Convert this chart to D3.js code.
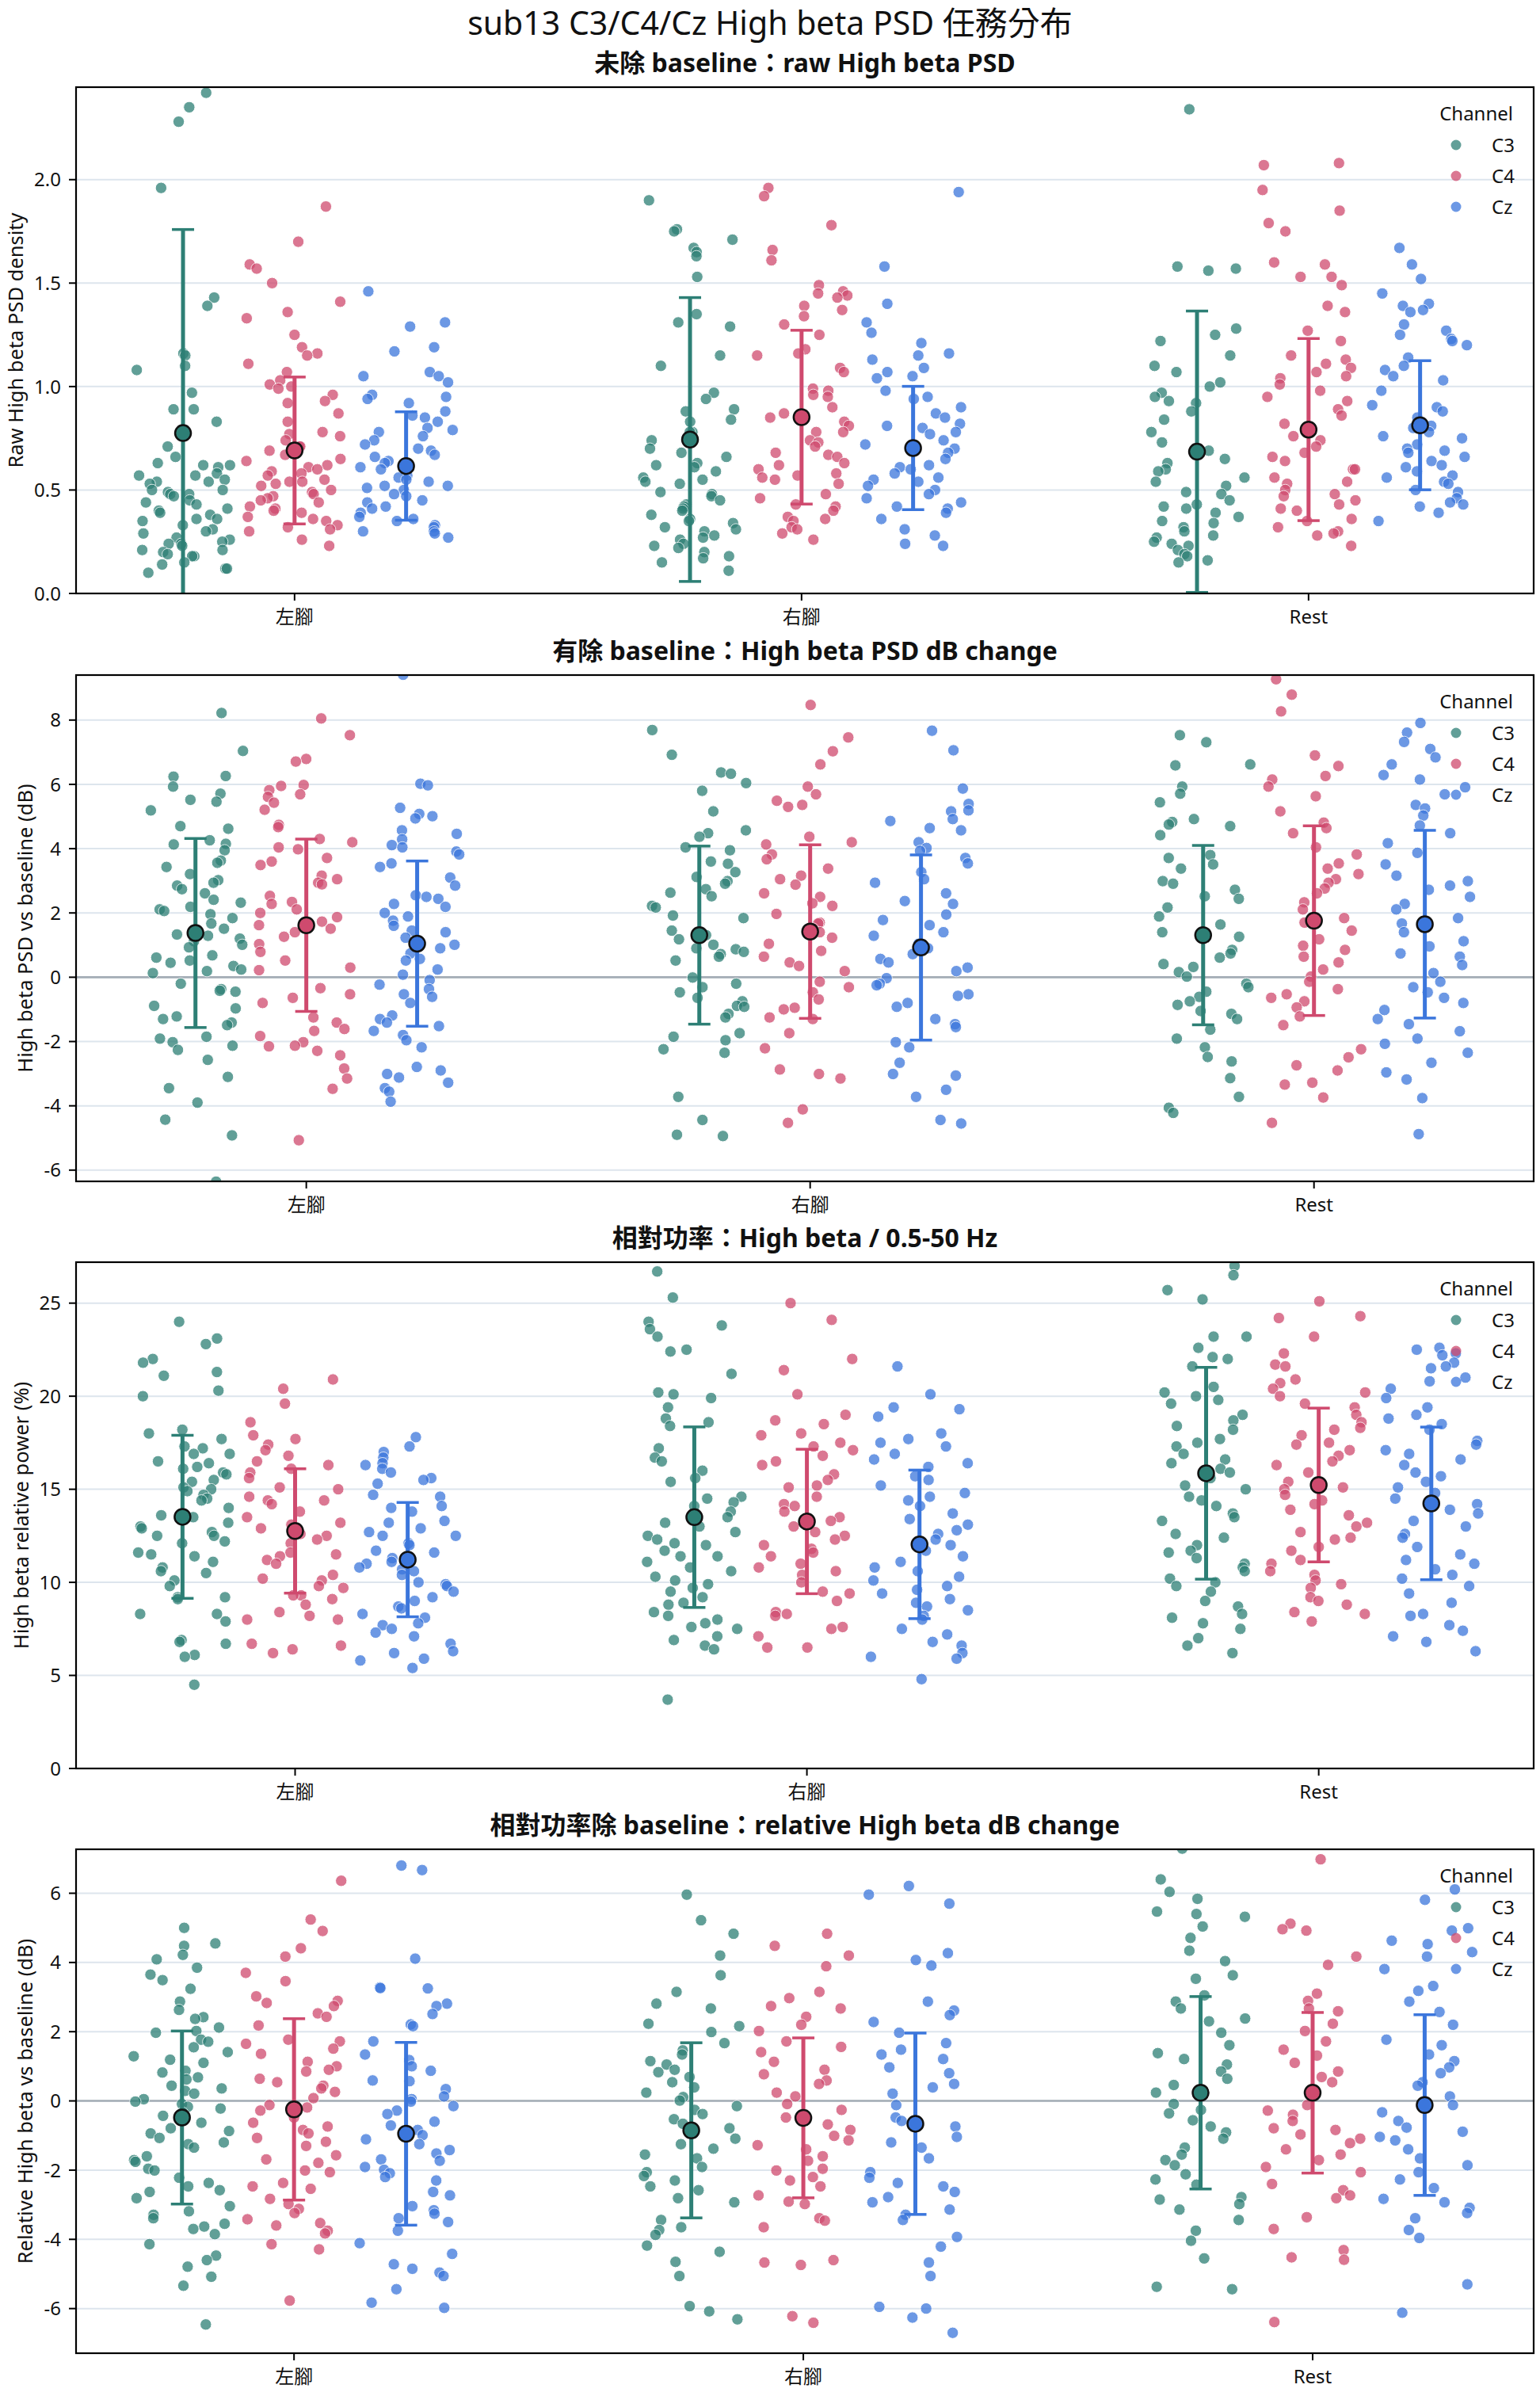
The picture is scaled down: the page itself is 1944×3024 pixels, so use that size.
<!DOCTYPE html>
<html>
<head>
<meta charset="utf-8">
<title>sub13 C3/C4/Cz High beta PSD</title>
<script src="https://d3js.org/d3.v7.min.js"></script>
<style>
  body { margin: 0; background: #fff; }
  text { font-family: "Noto Sans", "Noto Sans CJK TC", sans-serif; fill: #111; }
</style>
</head>
<body>
<div id="chart"></div>
<script>
// ---- data ----
const categories = ["左腳", "右腳", "Rest"];
const channels = ["C3", "C4", "Cz"];
const channelColors = ["#2d7f75", "#cf4a6e", "#3b76dc"];

// panel 1: raw High beta PSD, one list per category
const raw_C3 = [
  [2.42,2.35,2.28,1.96,1.43,1.39,1.16,1.15,1.10,1.08,0.97,0.89,0.89,0.83,0.71,0.66,0.63,0.62,0.62,0.61,0.58,0.57,0.57,0.55,0.54,0.54,0.53,0.50,0.50,0.49,0.48,0.48,0.47,0.45,0.44,0.43,0.41,0.40,0.39,0.38,0.36,0.36,0.35,0.33,0.31,0.30,0.29,0.27,0.26,0.25,0.24,0.24,0.23,0.21,0.21,0.20,0.19,0.18,0.18,0.15,0.14,0.12,0.12,0.10],
  [1.90,1.76,1.75,1.71,1.67,1.65,1.63,1.53,1.35,1.31,1.29,1.15,1.10,0.97,0.94,0.89,0.88,0.84,0.83,0.78,0.78,0.74,0.70,0.68,0.66,0.63,0.62,0.61,0.59,0.56,0.55,0.54,0.53,0.49,0.48,0.47,0.45,0.43,0.42,0.41,0.40,0.38,0.36,0.35,0.34,0.32,0.31,0.30,0.28,0.27,0.26,0.24,0.23,0.22,0.20,0.18,0.17,0.15,0.11],
  [2.34,1.58,1.57,1.56,1.28,1.25,1.22,1.15,1.10,1.07,1.02,1.00,0.97,0.95,0.93,0.92,0.88,0.84,0.78,0.73,0.69,0.65,0.63,0.60,0.59,0.56,0.54,0.52,0.49,0.48,0.45,0.43,0.42,0.41,0.39,0.37,0.35,0.34,0.32,0.30,0.28,0.27,0.25,0.24,0.23,0.21,0.19,0.18,0.16,0.15]
];
const raw_C4 = [
  [1.87,1.70,1.59,1.57,1.50,1.41,1.36,1.33,1.25,1.19,1.16,1.15,1.11,1.07,1.03,1.01,1.00,0.99,0.96,0.93,0.92,0.87,0.83,0.78,0.77,0.76,0.74,0.71,0.71,0.69,0.67,0.65,0.64,0.62,0.61,0.60,0.59,0.58,0.57,0.55,0.54,0.54,0.53,0.52,0.50,0.49,0.48,0.47,0.46,0.45,0.44,0.42,0.41,0.40,0.39,0.37,0.36,0.35,0.33,0.32,0.31,0.30,0.26,0.23],
  [1.96,1.92,1.78,1.66,1.61,1.49,1.46,1.45,1.44,1.43,1.39,1.37,1.34,1.30,1.25,1.18,1.16,1.15,1.09,1.07,0.99,0.98,0.96,0.95,0.90,0.87,0.85,0.83,0.81,0.78,0.78,0.74,0.73,0.71,0.68,0.67,0.66,0.63,0.62,0.60,0.58,0.57,0.56,0.55,0.53,0.48,0.46,0.43,0.42,0.40,0.37,0.36,0.35,0.32,0.31,0.29,0.26],
  [2.08,2.07,1.95,1.85,1.79,1.75,1.60,1.59,1.53,1.53,1.49,1.39,1.36,1.27,1.22,1.15,1.13,1.11,1.09,1.07,1.05,1.04,1.01,0.98,0.95,0.93,0.89,0.86,0.82,0.76,0.74,0.71,0.68,0.66,0.64,0.60,0.60,0.56,0.54,0.53,0.50,0.48,0.47,0.45,0.43,0.41,0.40,0.36,0.35,0.32,0.30,0.29,0.28,0.23]
];
const raw_Cz = [
  [1.46,1.31,1.29,1.19,1.17,1.07,1.05,1.05,1.02,0.96,0.95,0.94,0.92,0.88,0.86,0.85,0.83,0.80,0.79,0.78,0.76,0.74,0.72,0.70,0.69,0.67,0.66,0.64,0.63,0.61,0.60,0.57,0.56,0.55,0.54,0.52,0.52,0.51,0.50,0.48,0.47,0.45,0.44,0.42,0.41,0.39,0.37,0.36,0.35,0.33,0.32,0.30,0.30,0.29,0.27],
  [1.94,1.58,1.40,1.31,1.26,1.21,1.16,1.15,1.13,1.09,1.07,1.05,1.04,0.98,0.95,0.94,0.90,0.87,0.85,0.82,0.81,0.80,0.78,0.77,0.74,0.72,0.70,0.68,0.65,0.62,0.61,0.60,0.58,0.56,0.55,0.54,0.52,0.50,0.48,0.46,0.44,0.42,0.41,0.39,0.36,0.31,0.28,0.24,0.23],
  [1.67,1.59,1.52,1.45,1.40,1.39,1.37,1.36,1.30,1.27,1.25,1.23,1.22,1.20,1.14,1.10,1.08,1.05,1.03,0.98,0.91,0.90,0.88,0.85,0.81,0.80,0.78,0.76,0.75,0.72,0.70,0.69,0.68,0.66,0.64,0.62,0.61,0.59,0.57,0.56,0.54,0.53,0.50,0.49,0.46,0.44,0.43,0.42,0.39,0.35]
];
// mean and SD per channel (rows) and category (columns)
const raw_mean = [[0.775,0.744,0.685],[0.691,0.852,0.792],[0.616,0.703,0.813]];
const raw_sd = [[0.984,0.686,0.680],[0.355,0.420,0.440],[0.262,0.298,0.312]];

// panel 2: PSD dB change vs baseline
const db_C3 = [
  [8.22,7.04,6.26,6.24,5.93,5.71,5.52,5.46,5.19,4.70,4.62,4.26,4.15,4.13,3.95,3.63,3.56,3.43,3.21,3.02,2.94,2.85,2.74,2.61,2.41,2.32,2.19,2.11,2.06,1.96,1.84,1.67,1.51,1.33,1.29,1.20,1.12,1.01,0.93,0.68,0.61,0.52,0.45,0.35,0.24,0.19,0.13,-0.20,-0.37,-0.42,-0.45,-0.89,-0.97,-1.22,-1.30,-1.41,-1.49,-1.85,-1.91,-2.02,-2.13,-2.26,-2.57,-3.10,-3.45,-3.90,-4.43,-4.92,-6.36],
  [7.69,6.92,6.37,6.33,6.04,5.80,5.16,4.57,4.48,4.37,4.04,3.95,3.60,3.53,3.27,3.12,2.99,2.91,2.74,2.63,2.52,2.22,2.17,1.92,1.84,1.45,1.31,1.18,1.01,0.90,0.87,0.79,0.72,0.64,0.52,-0.01,-0.20,-0.31,-0.47,-0.64,-0.75,-0.89,-0.92,-1.14,-1.25,-1.74,-1.85,-1.96,-2.24,-2.35,-3.72,-4.44,-4.90,-4.94],
  [7.53,7.31,6.62,6.59,5.93,5.71,5.44,4.92,4.83,4.75,4.70,4.42,3.80,3.71,3.51,3.38,2.99,2.91,2.72,2.52,2.44,2.17,1.89,1.64,1.40,1.26,0.85,0.74,0.61,0.41,0.32,0.16,0.02,-0.20,-0.31,-0.45,-0.61,-0.75,-0.86,-1.05,-1.14,-1.30,-1.63,-1.91,-2.18,-2.48,-2.62,-3.14,-3.72,-4.06,-4.22]
];
const db_C4 = [
  [8.05,7.53,6.79,6.71,5.98,5.95,5.82,5.69,5.61,5.43,5.21,4.74,4.67,4.30,4.20,4.04,3.98,3.71,3.60,3.49,3.16,3.05,2.94,2.89,2.53,2.34,2.28,2.11,2.00,1.87,1.73,1.62,1.51,1.40,1.26,1.03,0.79,0.52,0.30,0.22,-0.34,-0.53,-0.64,-0.80,-1.25,-1.41,-1.61,-1.67,-1.83,-2.02,-2.13,-2.15,-2.29,-2.43,-2.84,-3.15,-3.47,-5.07],
  [8.47,7.46,7.03,6.62,5.93,5.69,5.49,5.36,5.30,4.37,4.20,4.13,3.82,3.67,3.38,3.16,3.05,2.88,2.61,2.50,2.30,2.22,1.97,1.70,1.67,1.51,1.40,1.23,1.04,0.82,0.64,0.46,0.35,0.19,-0.14,-0.31,-0.47,-0.69,-0.95,-1.00,-1.25,-1.30,-1.74,-2.21,-2.87,-3.01,-3.15,-4.11,-4.53],
  [9.27,8.79,8.27,6.90,6.57,6.26,6.15,5.93,5.63,5.16,4.81,4.64,4.48,4.04,3.82,3.54,3.38,3.21,3.05,2.94,2.76,2.61,2.33,2.11,1.84,1.70,1.45,1.18,0.98,0.85,0.64,0.46,0.24,0.02,-0.14,-0.37,-0.53,-0.64,-0.75,-0.94,-1.22,-1.49,-2.24,-2.49,-2.74,-2.90,-3.28,-3.34,-3.74,-4.53]
];
const db_Cz = [
  [9.41,6.02,5.97,5.27,5.08,5.01,4.94,4.57,4.46,4.29,4.11,4.04,3.91,3.82,3.54,3.43,3.10,2.85,2.55,2.50,2.44,2.28,2.19,2.00,1.89,1.76,1.60,1.45,1.40,1.23,1.01,0.90,0.74,0.57,0.52,0.24,0.08,-0.09,-0.23,-0.37,-0.53,-0.61,-0.80,-1.19,-1.30,-1.41,-1.52,-1.67,-1.80,-1.96,-2.18,-2.79,-2.90,-3.01,-3.12,-3.28,-3.45,-3.56,-3.87],
  [7.67,7.06,5.87,5.39,5.19,5.16,4.92,4.86,4.64,4.57,4.20,4.02,3.93,3.71,3.54,3.27,3.05,2.94,2.61,2.37,2.28,1.95,1.78,1.62,1.40,1.29,1.04,0.90,0.72,0.57,0.46,0.30,0.19,-0.03,-0.20,-0.25,-0.53,-0.58,-0.80,-0.92,-1.30,-1.46,-1.55,-2.02,-2.18,-2.66,-3.01,-3.06,-3.50,-3.72,-4.44,-4.55],
  [7.91,7.61,7.32,7.10,6.84,6.62,6.29,6.15,5.91,5.69,5.36,5.25,5.03,4.72,4.48,4.17,3.87,3.51,3.16,2.99,2.85,2.72,2.50,2.28,2.11,1.84,1.67,1.40,1.12,0.96,0.74,0.64,0.38,0.13,-0.14,-0.31,-0.47,-0.64,-0.80,-1.02,-1.30,-1.46,-1.68,-1.91,-2.07,-2.35,-2.66,-2.96,-3.18,-3.76,-4.88]
];
const db_mean = [[1.376,1.31,1.31],[1.617,1.42,1.76],[1.046,0.925,1.65]];
const db_sd = [[2.94,2.77,2.79],[2.68,2.70,2.95],[2.57,2.88,2.92]];

// panel 3: relative power (%)
const rel_C3 = [
  [24.0,23.1,22.8,22.0,21.8,21.3,21.1,20.3,20.0,18.2,18.0,17.7,17.3,17.2,16.9,16.9,16.5,16.4,16.2,16.1,15.9,15.8,15.5,15.4,15.1,15.0,14.9,14.7,14.5,14.4,14.0,13.6,13.5,13.2,13.0,12.9,12.7,12.5,12.5,12.2,12.1,11.6,11.5,11.4,11.1,10.8,10.6,10.5,10.1,9.8,9.2,9.2,9.1,8.3,8.3,7.9,6.9,6.8,6.7,6.1,6.0,4.5],
  [26.7,25.3,24.0,23.8,23.6,23.2,22.5,22.4,21.2,20.2,20.1,19.9,19.4,18.8,18.6,18.4,17.2,16.7,16.5,16.0,15.6,15.4,14.6,14.5,14.3,14.1,13.8,13.5,13.2,13.0,12.7,12.5,12.3,12.1,12.0,11.7,11.4,11.4,11.1,10.8,10.6,10.3,10.1,9.9,9.7,9.5,9.2,8.9,8.8,8.4,8.2,8.0,7.8,7.6,7.5,7.1,6.9,6.6,6.4,3.7],
  [27.0,26.5,25.7,25.2,23.2,23.2,22.6,22.1,22.0,21.6,20.5,20.2,20.0,19.8,19.6,19.0,18.7,18.4,18.2,17.7,17.5,17.3,16.9,16.6,16.4,16.1,15.9,15.6,15.2,15.0,14.6,14.4,14.1,13.7,13.5,13.3,12.6,12.4,12.0,11.7,11.6,11.3,11.0,10.8,10.6,10.2,10.0,9.8,9.5,9.0,8.7,8.3,8.1,7.8,7.5,7.0,6.6,6.2]
];
const rel_C4 = [
  [20.9,20.4,19.6,18.6,17.9,17.7,17.4,17.1,16.8,16.5,16.3,16.1,15.9,15.6,15.1,15.0,14.6,14.4,14.4,14.2,13.8,13.5,13.2,13.1,12.9,12.6,12.5,12.3,12.1,11.6,11.5,11.4,11.2,11.0,10.4,10.2,10.1,9.8,9.7,9.3,9.3,9.1,8.8,8.4,8.2,8.0,8.0,6.7,6.6,6.4,6.2],
  [25.0,24.1,22.0,21.4,20.1,19.0,18.7,18.5,18.0,17.9,17.5,17.3,17.1,16.8,16.5,16.3,15.8,15.5,15.2,15.1,14.6,14.2,14.1,13.8,13.5,13.3,13.0,12.7,12.5,12.3,12.0,11.8,11.6,11.4,11.0,10.8,10.6,10.4,10.0,9.5,9.4,9.0,8.4,8.3,8.2,7.6,7.5,7.1,6.5,6.5],
  [25.1,24.3,24.2,23.2,22.3,21.7,21.6,20.9,20.7,20.4,20.2,20.0,19.6,19.4,19.0,18.6,18.3,18.2,17.9,17.5,17.4,17.1,16.8,16.5,16.3,15.9,15.4,15.1,15.0,14.7,14.4,14.2,13.9,13.6,13.2,13.0,12.7,12.4,12.3,11.9,11.7,11.2,11.0,10.6,10.4,10.1,9.9,9.7,9.2,9.0,8.8,8.4,8.3,7.9]
];
const rel_Cz = [
  [17.8,17.3,17.0,16.7,16.4,16.3,16.1,15.9,15.6,15.5,15.3,14.7,14.6,14.1,14.0,13.8,13.3,13.2,12.9,12.7,12.5,12.5,12.1,12.0,11.7,11.6,11.3,11.1,11.0,10.8,10.7,10.6,10.4,10.0,9.9,9.8,9.5,9.2,9.0,8.7,8.6,8.3,8.1,7.8,7.7,7.5,7.3,7.1,6.7,6.3,6.2,5.9,5.8,5.4],
  [21.6,20.1,19.4,19.3,18.9,18.0,17.7,17.5,17.3,16.9,16.6,16.4,16.2,15.7,15.5,15.2,14.8,14.6,14.4,14.1,13.7,13.4,13.1,12.8,12.6,12.3,12.0,11.7,11.4,11.1,10.8,10.6,10.3,10.1,9.8,9.6,9.4,9.1,8.9,8.7,8.5,8.2,8.0,7.5,7.2,6.8,6.6,6.2,6.0,5.9,4.8],
  [22.6,22.5,22.3,22.2,21.8,21.6,21.5,21.0,20.8,20.4,19.9,19.4,19.0,18.8,18.5,18.2,17.6,17.4,17.1,16.9,16.6,16.3,15.9,15.7,15.4,15.1,14.8,14.5,14.2,13.9,13.7,13.3,13.0,12.6,12.4,11.9,11.5,11.2,11.0,10.7,10.4,10.2,9.8,9.4,8.9,8.3,8.2,7.7,7.4,7.1,6.8,6.3]
];
const rel_mean = [[13.52,13.50,15.86],[12.76,13.27,15.23],[11.22,12.04,14.24]];
const rel_sd = [[4.38,4.85,5.69],[3.34,3.88,4.13],[3.07,3.99,4.10]];

// panel 4: relative High beta dB change vs baseline
const reldb_C3 = [
  [5.00,4.55,4.48,4.22,4.09,3.85,3.65,3.49,3.24,2.87,2.63,2.42,2.37,2.12,2.02,1.97,1.77,1.71,1.55,1.41,1.29,1.19,1.10,0.87,0.82,0.68,0.62,0.44,0.36,0.29,0.21,0.05,-0.02,-0.09,-0.17,-0.22,-0.34,-0.43,-0.63,-0.79,-0.87,-0.94,-1.07,-1.20,-1.25,-1.35,-1.60,-1.71,-1.76,-1.96,-2.01,-2.22,-2.37,-2.47,-2.58,-2.63,-2.81,-3.04,-3.19,-3.29,-3.39,-3.55,-3.63,-3.70,-3.85,-4.14,-4.47,-4.60,-4.79,-5.08,-5.34,-6.46],
  [5.96,5.22,4.83,4.20,3.63,3.15,2.81,2.67,2.23,2.16,1.99,1.67,1.46,1.34,1.15,1.05,0.90,0.83,0.69,0.54,0.39,0.24,0.11,0.01,-0.15,-0.26,-0.38,-0.53,-0.66,-0.79,-0.94,-1.09,-1.25,-1.38,-1.55,-1.66,-1.91,-2.06,-2.17,-2.30,-2.47,-2.58,-2.81,-2.93,-3.44,-3.65,-3.73,-3.87,-4.18,-4.36,-4.65,-5.06,-5.93,-6.08,-6.31],
  [7.29,6.40,6.04,5.84,5.47,5.40,5.32,5.04,4.71,4.34,4.04,3.63,3.53,3.05,2.87,2.67,2.38,2.30,1.97,1.61,1.38,1.21,1.05,0.85,0.64,0.46,0.24,-0.09,-0.26,-0.36,-0.56,-0.74,-0.91,-1.09,-1.35,-1.55,-1.71,-1.86,-2.12,-2.27,-2.42,-2.78,-2.85,-2.98,-3.14,-3.44,-3.75,-4.04,-4.55,-5.37,-5.44]
];
const reldb_C4 = [
  [6.36,5.24,4.91,4.41,4.17,3.70,3.46,3.02,2.89,2.83,2.74,2.53,2.43,2.18,1.77,1.72,1.65,1.51,1.36,1.13,1.00,0.90,0.85,0.64,0.54,0.44,0.36,0.26,0.08,-0.12,-0.19,-0.28,-0.48,-0.63,-0.74,-0.84,-0.94,-1.07,-1.18,-1.30,-1.57,-1.69,-1.79,-2.01,-2.06,-2.37,-2.47,-2.54,-2.83,-2.98,-3.12,-3.24,-3.42,-3.53,-3.60,-3.75,-3.83,-4.14,-4.29,-5.77],
  [4.83,4.48,4.20,3.89,3.15,2.97,2.74,2.67,2.43,2.20,2.02,1.72,1.56,1.41,1.13,0.90,0.77,0.59,0.49,0.24,0.13,-0.09,-0.26,-0.48,-0.68,-0.84,-1.01,-1.14,-1.28,-1.40,-1.60,-1.73,-1.96,-2.01,-2.20,-2.30,-2.47,-2.73,-2.91,-2.98,-3.39,-3.46,-3.65,-4.60,-4.67,-4.74,-6.22,-6.41],
  [6.98,5.12,4.96,4.92,4.17,3.93,3.10,2.89,2.67,2.59,2.23,2.02,1.72,1.48,1.31,1.10,0.85,0.69,0.54,0.34,0.18,-0.12,-0.28,-0.40,-0.58,-0.79,-0.84,-0.97,-1.09,-1.22,-1.40,-1.55,-1.71,-1.91,-2.06,-2.40,-2.58,-2.73,-2.81,-3.36,-3.70,-4.31,-4.52,-4.59,-6.39]
];
const reldb_Cz = [
  [6.80,6.67,4.11,3.28,3.26,3.25,2.81,2.74,2.51,2.21,2.16,1.72,1.34,1.18,1.00,0.87,0.59,0.57,0.34,0.13,0.05,-0.02,-0.15,-0.28,-0.38,-0.60,-0.71,-0.84,-0.99,-1.11,-1.25,-1.42,-1.52,-1.69,-1.73,-1.91,-1.99,-2.09,-2.20,-2.30,-2.63,-2.73,-3.04,-3.16,-3.26,-3.39,-3.50,-3.75,-4.11,-4.42,-4.72,-4.85,-4.96,-5.06,-5.44,-5.83,-5.98],
  [6.21,5.96,5.70,4.27,4.07,3.91,2.87,2.61,2.48,2.28,1.97,1.67,1.48,1.34,1.21,0.97,0.80,0.49,0.39,0.21,-0.12,-0.48,-0.58,-0.74,-1.04,-1.20,-1.35,-1.66,-2.06,-2.22,-2.37,-2.47,-2.63,-2.78,-2.93,-3.14,-3.29,-3.44,-3.93,-4.21,-4.67,-5.06,-5.95,-6.00,-6.26,-6.70],
  [6.11,5.81,4.99,4.92,4.63,4.53,4.30,4.17,3.81,3.32,3.18,2.87,2.57,2.20,1.77,1.61,1.34,1.15,0.97,0.80,0.54,0.44,0.13,-0.12,-0.33,-0.58,-0.77,-0.89,-1.04,-1.14,-1.40,-1.66,-1.86,-2.06,-2.27,-2.52,-2.83,-2.93,-3.09,-3.24,-3.39,-3.73,-3.96,-5.30,-6.12]
];
const reldb_mean = [[-0.48,-0.85,0.235],[-0.245,-0.49,0.235],[-0.95,-0.66,-0.12]];
const reldb_sd = [[2.50,2.53,2.78],[2.62,2.31,2.32],[2.64,2.62,2.61]];

// axis ticks per panel
const ticks_raw = [0, 0.5, 1.0, 1.5, 2.0];
const ticks_db = [-6, -4, -2, 0, 2, 4, 6, 8];
const ticks_rel = [0, 5, 10, 15, 20, 25];
const ticks_reldb = [-6, -4, -2, 0, 2, 4, 6];

// ---- layout ----
const W = 1944, H = 3024;
const axLeft = 96, axRight = 1936;
const dodge = 0.22, jitterHalf = 0.095;

const panels = [
  { title: "未除 baseline：raw High beta PSD", ylabel: "Raw High beta PSD density",
    groups: [raw_C3, raw_C4, raw_Cz], mean: raw_mean, sd: raw_sd,
    ticks: ticks_raw, fmt: d => d.toFixed(1), ydom: [0, 2.447], xdom: [-0.431, 2.444],
    top: 110, bottom: 749, zero: false },
  { title: "有除 baseline：High beta PSD dB change", ylabel: "High beta PSD vs baseline (dB)",
    groups: [db_C3, db_C4, db_Cz], mean: db_mean, sd: db_sd,
    ticks: ticks_db, fmt: d => String(d), ydom: [-6.35, 9.40], xdom: [-0.457, 2.436],
    top: 852, bottom: 1491, zero: true },
  { title: "相對功率：High beta / 0.5-50 Hz", ylabel: "High beta relative power (%)",
    groups: [rel_C3, rel_C4, rel_Cz], mean: rel_mean, sd: rel_sd,
    ticks: ticks_rel, fmt: d => String(d), ydom: [0, 27.2], xdom: [-0.428, 2.42],
    top: 1593, bottom: 2232, zero: false },
  { title: "相對功率除 baseline：relative High beta dB change", ylabel: "Relative High beta vs baseline (dB)",
    groups: [reldb_C3, reldb_C4, reldb_Cz], mean: reldb_mean, sd: reldb_sd,
    ticks: ticks_reldb, fmt: d => String(d), ydom: [-7.29, 7.27], xdom: [-0.428, 2.434],
    top: 2334, bottom: 2970, zero: true }
];

const svg = d3.select("#chart").append("svg")
  .attr("width", W).attr("height", H)
  .style("display", "block");

svg.append("rect").attr("width", W).attr("height", H).attr("fill", "#fff");

// figure title
svg.append("text")
  .attr("x", W / 2).attr("y", 44)
  .attr("text-anchor", "middle")
  .style("font-size", "41px")
  .text("sub13 C3/C4/Cz High beta PSD 任務分布");

// deterministic hash jitter for the strip positions
function jitter(i, k) {
  const s = Math.sin((i + 1) * 12.9898 + (k + 1) * 78.233) * 43758.5453;
  const f = s - Math.floor(s);
  return (f - 0.5) * 2 * jitterHalf;
}

panels.forEach((p, pi) => {
  const x = d3.scaleLinear().domain(p.xdom).range([axLeft, axRight]);
  const y = d3.scaleLinear().domain(p.ydom).range([p.bottom, p.top]);
  const g = svg.append("g");

  const clipId = "clip" + pi;
  svg.append("defs").append("clipPath").attr("id", clipId)
    .append("rect")
    .attr("x", axLeft).attr("y", p.top)
    .attr("width", axRight - axLeft).attr("height", p.bottom - p.top);

  // grid
  g.append("g").selectAll("line")
    .data(p.ticks)
    .join("line")
    .attr("x1", axLeft).attr("x2", axRight)
    .attr("y1", d => y(d)).attr("y2", d => y(d))
    .attr("stroke", "#dde5ed").attr("stroke-width", 2);

  if (p.zero) {
    g.append("line")
      .attr("x1", axLeft).attr("x2", axRight)
      .attr("y1", y(0)).attr("y2", y(0))
      .attr("stroke", "#a3acb5").attr("stroke-width", 2.6);
  }

  const plot = g.append("g").attr("clip-path", `url(#${clipId})`);

  // strip points
  p.groups.forEach((chan, ci) => {
    chan.forEach((vals, ki) => {
      plot.append("g").selectAll("circle")
        .data(vals)
        .join("circle")
        .attr("cx", (d, i) => x(ki + (ci - 1) * dodge + jitter(i, pi * 9 + ci * 3 + ki)))
        .attr("cy", d => y(d))
        .attr("r", 7.2)
        .attr("fill", channelColors[ci])
        .attr("stroke", "#fff")
        .attr("stroke-width", 1)
        .attr("opacity", 0.75);
    });
  });

  // mean +/- sd
  channels.forEach((c, ci) => {
    categories.forEach((cat, ki) => {
      const cx = x(ki + (ci - 1) * dodge);
      const m = p.mean[ci][ki], s = p.sd[ci][ki];
      const col = channelColors[ci];
      plot.append("line")
        .attr("x1", cx).attr("x2", cx)
        .attr("y1", y(m - s)).attr("y2", y(m + s))
        .attr("stroke", col).attr("stroke-width", 5);
      [m - s, m + s].forEach(v => {
        plot.append("line")
          .attr("x1", cx - 14).attr("x2", cx + 14)
          .attr("y1", y(v)).attr("y2", y(v))
          .attr("stroke", col).attr("stroke-width", 3.5);
      });
      plot.append("circle")
        .attr("cx", cx).attr("cy", y(m)).attr("r", 10)
        .attr("fill", col)
        .attr("stroke", "#111").attr("stroke-width", 2.5);
    });
  });

  // frame
  g.append("rect")
    .attr("x", axLeft).attr("y", p.top)
    .attr("width", axRight - axLeft).attr("height", p.bottom - p.top)
    .attr("fill", "none").attr("stroke", "#000").attr("stroke-width", 2.2);

  // y axis ticks
  const yTicks = g.append("g");
  p.ticks.forEach(t => {
    yTicks.append("line")
      .attr("x1", axLeft - 9).attr("x2", axLeft)
      .attr("y1", y(t)).attr("y2", y(t))
      .attr("stroke", "#000").attr("stroke-width", 2);
    yTicks.append("text")
      .attr("class", "ytl")
      .attr("x", axLeft - 19).attr("y", y(t))
      .attr("dy", "0.36em")
      .attr("text-anchor", "end")
      .style("font-size", "24px")
      .text(p.fmt(t));
  });

  // x axis ticks
  categories.forEach((cat, ki) => {
    g.append("line")
      .attr("x1", x(ki)).attr("x2", x(ki))
      .attr("y1", p.bottom).attr("y2", p.bottom + 9)
      .attr("stroke", "#000").attr("stroke-width", 2);
    g.append("text")
      .attr("x", x(ki)).attr("y", p.bottom + 38)
      .attr("text-anchor", "middle")
      .style("font-size", "24px")
      .text(cat);
  });

  // y label, placed beside the widest tick label
  const maxW = d3.max(yTicks.selectAll("text.ytl").nodes(), n => n.getBBox().width);
  const lx = axLeft - 19 - maxW - 14;
  g.append("text")
    .attr("transform", `translate(${lx},${(p.top + p.bottom) / 2}) rotate(-90)`)
    .attr("text-anchor", "middle")
    .style("font-size", "25.5px")
    .text(p.ylabel);

  // panel title
  g.append("text")
    .attr("x", (axLeft + axRight) / 2).attr("y", p.top - 19)
    .attr("text-anchor", "middle")
    .style("font-size", "32px").style("font-weight", "bold")
    .text(p.title);

  // legend
  const lg = g.append("g");
  lg.append("text")
    .attr("x", 1910).attr("y", p.top + 42)
    .attr("text-anchor", "end")
    .style("font-size", "24px")
    .text("Channel");
  channels.forEach((c, ci) => {
    const ly = p.top + 73 + ci * 39;
    lg.append("circle")
      .attr("cx", 1838).attr("cy", ly).attr("r", 6.5)
      .attr("fill", channelColors[ci]).attr("opacity", 0.75);
    lg.append("text")
      .attr("x", 1883).attr("y", ly + 8.5)
      .style("font-size", "24px")
      .text(c);
  });
});
</script>
</body>
</html>
